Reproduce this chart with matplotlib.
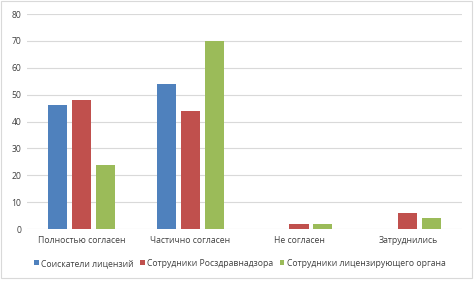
import matplotlib.pyplot as plt
import numpy as np
from matplotlib.patches import Rectangle

categories = ['Полностью согласен', 'Частично согласен', 'Не согласен', 'Затруднились']
series_names = ['Соискатели лицензий', 'Сотрудники Росздравнадзора',
                'Сотрудники лицензирующего органа']
applicants = [46, 54, 0, 0]
roszdrav = [48, 44, 2, 6]
licensing = [24, 70, 2, 4]
colors = ['#4F81BD', '#C0504D', '#9BBB59']

plt.rcParams['font.family'] = ['Open Sans', 'DejaVu Sans']

fig = plt.figure(figsize=(4.75, 2.81), dpi=100)
ax = fig.add_axes([0.057, 0.185, 0.916, 0.765])

x = np.arange(len(categories))
width = 0.175
step = 0.22
for i, (vals, name) in enumerate(zip([applicants, roszdrav, licensing], series_names)):
    ax.bar(x + (i - 1) * step, vals, width, color=colors[i], label=name, zorder=3)

ax.set_xlim(-0.5, len(categories) - 0.5)
ax.set_ylim(0, 80)
ax.set_yticks(range(0, 81, 10))
ax.yaxis.grid(True, color='#d9d9d9', linewidth=0.8, zorder=0)
for s in ax.spines.values():
    s.set_visible(False)
ax.tick_params(axis='both', length=0, labelsize=6.2, colors='#404040', pad=4)
ax.set_xticks(x)
ax.set_xticklabels(categories)
ax.tick_params(axis='x', pad=5)

leg = fig.legend(loc='center', bbox_to_anchor=(0.505, 0.063), ncol=3, frameon=False,
                 fontsize=6.2, handlelength=0.55, handleheight=0.55, handletextpad=0.3,
                 columnspacing=0.7)
for t in leg.get_texts():
    t.set_color('#404040')

fig.patches.append(Rectangle((0.003, 0.01), 0.99, 0.985, transform=fig.transFigure,
                             fill=False, edgecolor='#d9d9d9', linewidth=0.8))

fig.savefig('out.png', dpi=100)
